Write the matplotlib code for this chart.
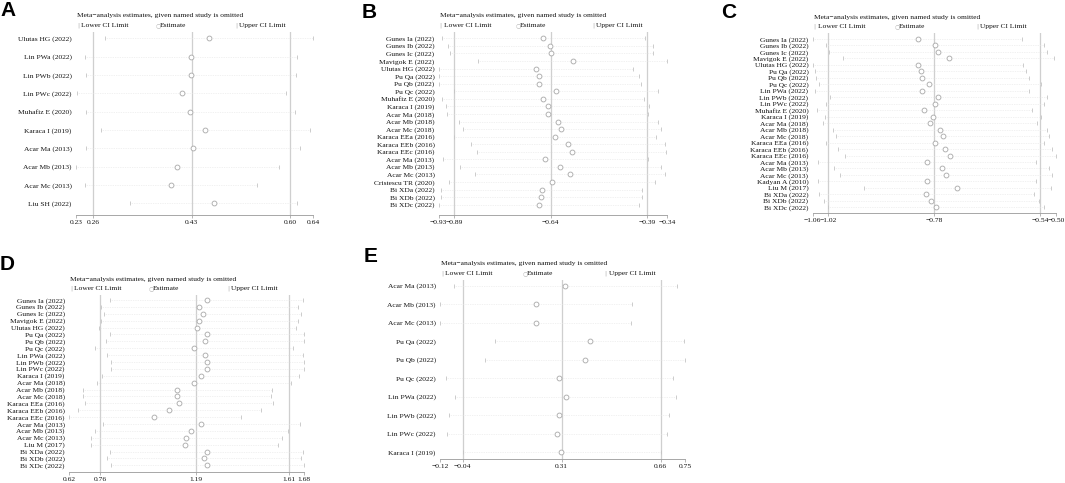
import matplotlib

matplotlib.use("Agg")
import matplotlib.pyplot as plt

plt.rcParams["font.family"] = ["Liberation Serif", "DejaVu Serif"]

W, H = 1065, 483

# ---- panel A ----
names_a = ["Ulutas HG (2022)", "Lin PWa (2022)", "Lin PWb (2022)", "Lin PWc (2022)",
           "Muhafiz E (2020)", "Karaca I (2019)", "Acar Ma (2013)", "Acar Mb (2013)",
           "Acar Mc (2013)", "Liu SH (2022)"]
low_a = [0.281, 0.245, 0.247, 0.232, 0.247, 0.273, 0.248, 0.230, 0.245, 0.323]
est_a = [0.460, 0.429, 0.429, 0.413, 0.427, 0.453, 0.433, 0.405, 0.394, 0.468]
up_a = [0.640, 0.613, 0.611, 0.593, 0.608, 0.634, 0.618, 0.581, 0.543, 0.613]
overall_a = [0.26, 0.43, 0.60]

# ---- panel B ----
names_b = ["Gunes Ia (2022)", "Gunes Ib (2022)", "Gunes Ic (2022)", "Mavigok E (2022)",
           "Ulutas HG (2022)", "Pu Qa (2022)", "Pu Qb (2022)", "Pu Qc (2022)",
           "Muhafiz E (2020)", "Karaca I (2019)", "Acar Ma (2018)", "Acar Mb (2018)",
           "Acar Mc (2018)", "Karaca EEa (2016)", "Karaca EEb (2016)", "Karaca EEc (2016)",
           "Acar Ma (2013)", "Acar Mb (2013)", "Acar Mc (2013)", "Cristescu TR (2020)",
           "Bi XDa (2022)", "Bi XDb (2022)", "Bi XDc (2022)"]
low_b = [-0.921, -0.906, -0.902, -0.827, -0.930, -0.929, -0.928, -0.891, -0.922, -0.912,
         -0.908, -0.878, -0.868, -0.890, -0.847, -0.832, -0.920, -0.875, -0.835, -0.904,
         -0.924, -0.925, -0.929]
est_b = [-0.659, -0.641, -0.639, -0.583, -0.679, -0.670, -0.669, -0.627, -0.660, -0.648,
         -0.647, -0.620, -0.612, -0.630, -0.595, -0.586, -0.654, -0.615, -0.590, -0.637,
         -0.663, -0.664, -0.670]
up_b = [-0.397, -0.376, -0.374, -0.338, -0.428, -0.411, -0.406, -0.361, -0.398, -0.385,
        -0.387, -0.361, -0.355, -0.367, -0.344, -0.341, -0.388, -0.355, -0.345, -0.369,
        -0.403, -0.404, -0.412]
overall_b = [-0.89, -0.64, -0.39]

# ---- panel C ----
names_c = ["Gunes Ia (2022)", "Gunes Ib (2022)", "Gunes Ic (2022)", "Mavigok E (2022)",
           "Ulutas HG (2022)", "Pu Qa (2022)", "Pu Qb (2022)", "Pu Qc (2022)",
           "Lin PWa (2022)", "Lin PWb (2022)", "Lin PWc (2022)", "Muhafiz E (2020)",
           "Karaca I (2019)", "Acar Ma (2018)", "Acar Mb (2018)", "Acar Mc (2018)",
           "Karaca EEa (2016)", "Karaca EEb (2016)", "Karaca EEc (2016)", "Acar Ma (2013)",
           "Acar Mb (2013)", "Acar Mc (2013)", "Kadyan A (2010)", "Liu M (2017)",
           "Bi XDa (2022)", "Bi XDb (2022)", "Bi XDc (2022)"]
low_c = [-1.056, -1.026, -1.018, -0.986, -1.054, -1.050, -1.049, -1.041, -1.050, -1.017,
         -1.026, -1.047, -1.029, -1.032, -1.010, -1.002, -1.026, -0.999, -0.982, -1.044,
         -1.008, -0.993, -1.043, -0.940, -1.041, -1.031, -1.022]
est_c = [-0.817, -0.779, -0.772, -0.747, -0.816, -0.811, -0.807, -0.791, -0.808, -0.771,
         -0.778, -0.803, -0.783, -0.790, -0.768, -0.761, -0.779, -0.756, -0.745, -0.797,
         -0.763, -0.753, -0.796, -0.728, -0.798, -0.787, -0.776]
up_c = [-0.580, -0.532, -0.525, -0.508, -0.578, -0.572, -0.566, -0.539, -0.566, -0.525,
        -0.530, -0.559, -0.537, -0.547, -0.525, -0.519, -0.532, -0.513, -0.503, -0.550,
        -0.519, -0.512, -0.549, -0.516, -0.554, -0.542, -0.530]
overall_c = [-1.02, -0.78, -0.54]

# ---- panel D ----
names_d = ["Gunes Ia (2022)", "Gunes Ib (2022)", "Gunes Ic (2022)", "Mavigok E (2022)",
           "Ulutas HG (2022)", "Pu Qa (2022)", "Pu Qb (2022)", "Pu Qc (2022)",
           "Lin PWa (2022)", "Lin PWb (2022)", "Lin PWc (2022)", "Karaca I (2019)",
           "Acar Ma (2018)", "Acar Mb (2018)", "Acar Mc (2018)", "Karaca EEa (2016)",
           "Karaca EEb (2016)", "Karaca EEc (2016)", "Acar Ma (2013)", "Acar Mb (2013)",
           "Acar Mc (2013)", "Liu M (2017)", "Bi XDa (2022)", "Bi XDb (2022)", "Bi XDc (2022)"]
low_d = [0.805, 0.764, 0.779, 0.766, 0.754, 0.805, 0.785, 0.739, 0.793, 0.809, 0.809,
         0.770, 0.748, 0.685, 0.682, 0.694, 0.662, 0.620, 0.772, 0.736, 0.718, 0.721,
         0.805, 0.791, 0.811]
est_d = [1.240, 1.207, 1.221, 1.207, 1.198, 1.242, 1.233, 1.183, 1.233, 1.243, 1.243,
         1.212, 1.182, 1.108, 1.105, 1.116, 1.072, 1.004, 1.215, 1.170, 1.147, 1.141,
         1.239, 1.227, 1.243]
up_d = [1.674, 1.650, 1.662, 1.649, 1.643, 1.679, 1.679, 1.628, 1.671, 1.677, 1.677,
        1.653, 1.617, 1.533, 1.529, 1.539, 1.482, 1.393, 1.658, 1.605, 1.578, 1.562,
        1.673, 1.664, 1.679]
overall_d = [0.76, 1.19, 1.61]

# ---- panel E ----
names_e = ["Acar Ma (2013)", "Acar Mb (2013)", "Acar Mc (2013)", "Pu Qa (2022)",
           "Pu Qb (2022)", "Pu Qc (2022)", "Lin PWa (2022)", "Lin PWb (2022)",
           "Lin PWc (2022)", "Karaca I (2019)"]
low_e = [-0.069, -0.120, -0.120, 0.075, 0.038, -0.099, -0.067, -0.087, -0.096, -0.040]
est_e = [0.323, 0.218, 0.218, 0.409, 0.392, 0.301, 0.324, 0.301, 0.292, 0.309]
up_e = [0.716, 0.560, 0.554, 0.744, 0.747, 0.704, 0.715, 0.691, 0.681, 0.660]
overall_e = [-0.04, 0.31, 0.66]

REF = "#cfcfcf"
MARK = "#a8a8a8"
TXT = "#111111"
FS = 5.4


def fmt(v):
    return f"{v:.2f}".replace("-", "\u2212")


def panel(fig, box, rows, names, low, est, up, overall, letter, letter_xy):
    """box = (x0, x1, ytop, ybot) in pixels; rows = (first row px, last row px)."""
    x0, x1, yt, yb = box
    ax = fig.add_axes([x0 / W, 1 - yb / H, (x1 - x0) / W, (yb - yt) / H])
    n = len(names)
    ys = list(range(n))
    step = (rows[1] - rows[0]) / (n - 1)
    ax.set_ylim(n - 1 + (yb - rows[1]) / step, -(rows[0] - yt) / step)
    lo, hi = min(low), max(up)
    ax.set_xlim(lo, hi)

    for v in overall:
        ax.axvline(v, color=REF, lw=0.9, zorder=1)
    ax.hlines(ys, low, up, color="#e4e4e4", lw=0.5, linestyles=(0, (1, 1.5)), zorder=1)
    ax.plot(low, ys, ls="none", marker="|", ms=3.5, mew=0.6, color="#c4c4c4", zorder=2)
    ax.plot(up, ys, ls="none", marker="|", ms=3.5, mew=0.6, color="#c4c4c4", zorder=2)
    ax.plot(est, ys, ls="none", marker="o", ms=3.5, mew=0.6, mfc="white", mec=MARK, zorder=3)

    ax.set_yticks(ys)
    ax.set_yticklabels(names, fontsize=FS, color=TXT)
    ticks = [lo] + list(overall) + [hi]
    ax.set_xticks(ticks)
    ax.set_xticklabels([fmt(t) for t in ticks], fontsize=FS, color=TXT)
    ax.tick_params(axis="y", length=0, pad=3)
    ax.tick_params(axis="x", length=2, width=0.5, color="#999999", pad=1.5)
    for s in ("left", "top", "right"):
        ax.spines[s].set_visible(False)
    ax.spines["bottom"].set_color("#999999")
    ax.spines["bottom"].set_linewidth(0.6)

    # title and legend above the plot area
    fig.text((x0 + 1) / W, 1 - (yt - 16) / H, "Meta\u2212analysis estimates, given named study is omitted",
             fontsize=FS, color=TXT, va="center")
    wid = x1 - x0
    items = [("|", "Lower CI Limit"), ("\u25cb", "Estimate"), ("|", "Upper CI Limit")]
    for k, (sym, lab) in enumerate(items):
        lx = x0 + 1 + k * wid / 3
        fig.text(lx / W, 1 - (yt - 6.5) / H, sym, fontsize=4.5, color="#b0b0b0", va="center",
                 family="DejaVu Sans")
        fig.text((lx + 4) / W, 1 - (yt - 6.5) / H, lab, fontsize=FS, color=TXT, va="center")

    fig.text(letter_xy[0] / W, 1 - letter_xy[1] / H, letter, fontsize=15, fontweight="bold",
             family="Liberation Sans", va="center", ha="left")
    return ax


def main():
    fig = plt.figure(figsize=(W / 100, H / 100), dpi=100)
    panel(fig, (76, 313, 32, 215), (38.3, 203.3), names_a, low_a, est_a, up_a, overall_a,
          "A", (0, 11))
    panel(fig, (438.7, 667.3, 32, 215), (38.3, 204.7), names_b, low_b, est_b, up_b, overall_b,
          "B", (362, 12))
    panel(fig, (812.6, 1056.4, 33, 213), (39, 207.3), names_c, low_c, est_c, up_c, overall_c,
          "C", (721, 12))
    panel(fig, (69, 304.3, 295, 472.3), (300, 465.3), names_d, low_d, est_d, up_d, overall_d,
          "D", (0, 264))
    panel(fig, (440, 685.3, 280, 459), (285.7, 452), names_e, low_e, est_e, up_e, overall_e,
          "E", (364, 257))
    fig.savefig("out.png", dpi=100)
    plt.close(fig)


if __name__ == "__main__":
    main()
